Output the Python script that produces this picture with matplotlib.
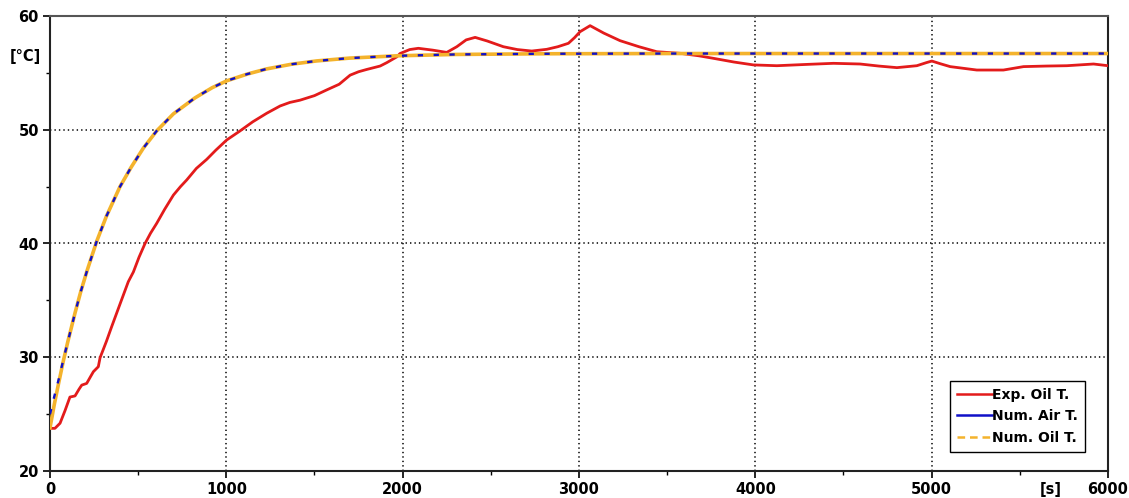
import matplotlib

matplotlib.use("Agg")
import matplotlib.pyplot as plt
from matplotlib.lines import Line2D
from matplotlib.ticker import MultipleLocator

# Numerical model: time [s] and air / oil temperature [°C]
t_num = [0, 25, 50, 76, 100, 142, 175, 210, 265, 320, 397, 460, 530, 605,
         700, 822, 920, 1002, 1120, 1229, 1370, 1512, 1700, 1966, 2300,
         2800, 3500, 6000]
air_num = [25.0, 26.6, 28.1, 29.8, 31.3, 33.9, 35.8, 37.6, 40.2, 42.4,
           45.0, 46.7, 48.4, 49.9, 51.4, 52.8, 53.7, 54.3, 54.9, 55.35,
           55.76, 56.05, 56.3, 56.5, 56.62, 56.68, 56.7, 56.7]
oil_num = [23.8, 25.9, 27.8, 29.7, 31.3, 33.9, 35.8, 37.6, 40.2, 42.4,
           45.0, 46.7, 48.4, 49.9, 51.4, 52.8, 53.7, 54.3, 54.9, 55.35,
           55.76, 56.05, 56.3, 56.5, 56.62, 56.68, 56.7, 56.7]

# Measured oil temperature
t_exp = [0, 28, 57, 85, 113, 142, 165, 180, 208, 230, 246, 274, 284, 320,
         350, 400, 444, 473, 505, 539, 570, 605, 650, 700, 740, 775, 830,
         889, 940, 1002, 1040, 1078, 1150, 1229, 1305, 1360, 1418, 1500,
         1569, 1640, 1702, 1750, 1796, 1872, 1910, 1966, 1985, 2040, 2089,
         2170, 2250, 2307, 2360, 2411, 2480, 2571, 2650, 2732, 2817, 2880,
         2940, 2975, 3006, 3063, 3140, 3233, 3340, 3441, 3573, 3680, 3762,
         3880, 3989, 4122, 4300, 4443, 4594, 4700, 4803, 4916, 4970, 5001,
         5050, 5105, 5256, 5407, 5521, 5650, 5767, 5918, 6000]
oil_exp = [23.75, 23.75, 24.2, 25.3, 26.5, 26.6, 27.2, 27.55, 27.7, 28.3,
           28.73, 29.17, 29.96, 31.4, 32.7, 34.8, 36.64, 37.5, 38.8, 40.0,
           40.9, 41.77, 43.0, 44.26, 45.0, 45.58, 46.6, 47.4, 48.2, 49.1,
           49.5, 49.9, 50.7, 51.45, 52.09, 52.4, 52.6, 53.0, 53.5, 54.0,
           54.8, 55.1, 55.3, 55.6, 55.9, 56.4, 56.7, 57.05, 57.16, 57.0,
           56.8, 57.3, 57.9, 58.12, 57.8, 57.3, 57.05, 56.92, 57.07, 57.3,
           57.6, 58.1, 58.62, 59.15, 58.5, 57.83, 57.3, 56.86, 56.72, 56.5,
           56.28, 55.95, 55.7, 55.63, 55.75, 55.84, 55.78, 55.6, 55.46,
           55.63, 55.9, 56.04, 55.8, 55.55, 55.25, 55.25, 55.55, 55.6,
           55.63, 55.78, 55.63]

RED = "#e31b1b"
BLUE = "#1010c8"
ORANGE = "#f4b32c"
FONT = 10.5

plt.rcParams["font.family"] = "DejaVu Sans"
plt.rcParams["font.weight"] = "bold"
plt.rcParams["lines.scale_dashes"] = False

fig = plt.figure(figsize=(11.29, 4.98), dpi=100)
ax = fig.add_axes([50 / 1129, 27 / 498, 1058 / 1129, 455 / 498])

# oil curve as a solid band, air curve dashed on top of it
ax.plot(t_exp, oil_exp, color=RED, lw=2.0, zorder=3)
ax.plot(t_num, oil_num, color=ORANGE, lw=2.6, zorder=4)
ax.plot(t_num, air_num, color=BLUE, lw=1.7, dashes=(3.8, 7.6), zorder=5)

ax.set_xlim(0, 6000)
ax.set_ylim(20, 60)
ax.xaxis.set_major_locator(MultipleLocator(1000))
ax.xaxis.set_minor_locator(MultipleLocator(500))
ax.yaxis.set_major_locator(MultipleLocator(10))
ax.yaxis.set_minor_locator(MultipleLocator(5))
ax.grid(True, which="major", color="black", lw=1.1, linestyle=(0, (1, 2.2)))

ax.tick_params(which="major", direction="out", length=5, width=1.2,
               labelsize=FONT, pad=3)
ax.tick_params(which="minor", direction="out", length=3, width=1.0)
for lbl in ax.get_xticklabels() + ax.get_yticklabels():
    lbl.set_fontweight("bold")

for side in ("left", "bottom", "right", "top"):
    ax.spines[side].set_linewidth(1.5)
    ax.spines[side].set_color("#222222")
ax.spines["top"].set_color("#555555")

fig.text(25 / 1129, 1 - 57 / 498, "[°C]", ha="center", va="center",
         fontsize=FONT, fontweight="bold")
fig.text(1051 / 1129, 1 - 489 / 498, "[s]", ha="center", va="center",
         fontsize=FONT, fontweight="bold")

handles = [
    Line2D([], [], color=RED, lw=1.8),
    Line2D([], [], color=BLUE, lw=1.8),
    Line2D([], [], color=ORANGE, lw=1.8, dashes=(5.5, 3.5)),
]
labels = ["Exp. Oil T.", "Num. Air T.", "Num. Oil T."]
leg = ax.legend(handles, labels, loc="lower right",
                bbox_to_anchor=(0.978, 0.042), borderaxespad=0,
                fancybox=False, framealpha=1, edgecolor="black",
                prop={"size": 10, "weight": "bold"}, handlelength=2.5,
                handletextpad=0.0, borderpad=0.5, labelspacing=0.55)
leg.get_frame().set_linewidth(1.0)

fig.savefig("out.png", dpi=100)
